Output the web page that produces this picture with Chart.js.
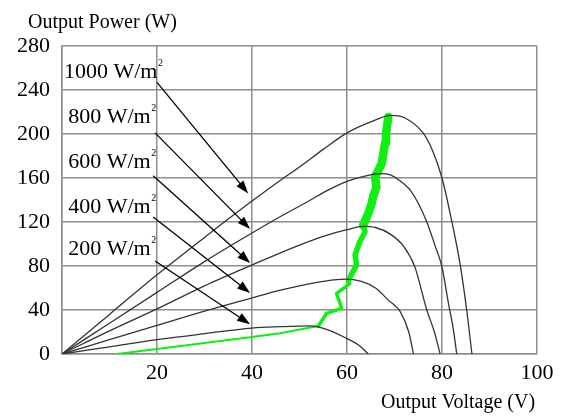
<!DOCTYPE html>
<html>
<head>
<meta charset="utf-8">
<script src="https://cdn.jsdelivr.net/npm/chart.js@4.4.1/dist/chart.umd.min.js"></script>
<style>
  html, body { margin: 0; padding: 0; background: #fff; }
  #wrap { width: 565px; height: 416px; }
</style>
</head>
<body>
<div id="wrap"><canvas id="chart" width="565" height="416"></canvas></div>
<script>
// P-V curves (volts, watts)
const irradiance = ["1000", "800", "600", "400", "200"];

const v1000 = [0, 10, 20, 30, 40, 46, 50, 55, 60, 65, 69.3, 72, 76, 78, 80, 82, 83.8, 85.2, 86.3];
const p1000 = [0, 36, 72, 106, 139, 158, 170, 186, 201, 211, 217, 215, 201, 185, 160, 122, 82, 40, 0];

const v800 = [0, 10, 20, 30, 40, 46, 51.5, 56, 60, 64, 67, 69, 71, 73.3, 75, 76.8, 78.5, 80, 81.4, 82.4, 83.1];
const p800 = [0, 28, 56, 84, 110, 125, 138, 149, 157, 162, 164, 163, 158, 149, 137, 120, 99, 79, 45, 22, 0];

const v600 = [0, 10, 20, 30, 40, 46, 50, 55, 60, 63.4, 66, 69.1, 71.9, 74.3, 76.8, 78.4, 79.6];
const p600 = [0, 21, 41, 62, 81, 92, 99, 107, 113, 116, 115, 109, 98, 79, 40, 20, 0];

const v400 = [0, 10, 20, 30, 40, 46, 50, 55, 59.6, 63, 66, 68.7, 71.2, 73, 74];
const p400 = [0, 13, 26, 39, 51, 58, 62, 66, 68, 66, 60, 49, 38.5, 20, 0];

const v200 = [0, 10, 20, 30, 40, 46, 52.2, 56, 60, 62.5, 64.5];
const p200 = [0, 6.5, 13, 18.5, 23.6, 24.8, 25.5, 22, 14, 8, 0];

// tracked maximum power point path (green)
const mpptV = [11.5, 20, 30, 40, 45.9, 54, 55.7, 58.9, 57.8, 60.6, 60.3, 62, 61.7, 62.7, 63.8, 63.4, 64.5, 65.2, 65.5, 66.2, 65.9, 67.3, 67.6, 68, 68.2, 68.7];
const mpptP = [0, 4.5, 10, 15.5, 18.8, 25.5, 37, 41.5, 55, 64, 67, 81, 90, 102, 111, 117, 128, 137, 143, 152, 161, 173, 181, 191.5, 200, 215.5];

// label / arrow anchors in data units
const labelV = [0.4, 1.3, 1.3, 1.3, 1.3];
const labelP = [251, 210, 169, 128, 90];
const arrowFromV = [20.0, 19.6, 19.2, 19.2, 19.6];
const arrowFromP = [247, 201, 162, 124.5, 84.5];
const arrowToV = [39.2, 39.6, 39.6, 39.6, 39.6];
const arrowToP = [146, 113.6, 82.7, 55.5, 27];

const SERIF = "'Liberation Serif', 'DejaVu Serif', serif";

function toPoints(xs, ys) {
    return xs.map((x, i) => ({ x: x, y: ys[i] }));
}

const curves = [[v1000, p1000], [v800, p800], [v600, p600], [v400, p400], [v200, p200]];

const datasets = curves.map((c, i) => ({
    label: irradiance[i] + " W/m2",
    data: toPoints(c[0], c[1]),
    borderColor: "#333",
    borderWidth: 1.3,
    pointRadius: 0,
    fill: false,
    cubicInterpolationMode: "monotone"
}));

datasets.push({
    label: "MPPT",
    data: toPoints(mpptV, mpptP),
    borderColor: "#11ee11",
    pointRadius: 0,
    fill: false,
    tension: 0,
    borderJoinStyle: "round",
    borderCapStyle: "round",
    segment: {
        borderWidth: ctx => {
            const p = ctx.p1.parsed.y;
            if (p <= 26) return 2;
            if (p <= 70) return 3.5;
            if (p <= 120) return 5.5;
            return 8.5;
        }
    }
});

const annotate = {
    id: "annotate",
    afterDraw(chart) {
        const ctx = chart.ctx;
        const xs = chart.scales.x, ys = chart.scales.y;
        ctx.save();
        ctx.fillStyle = "#000";
        ctx.strokeStyle = "#000";
        ctx.textBaseline = "alphabetic";
        ctx.textAlign = "left";

        irradiance.forEach((lab, i) => {
            const tx = xs.getPixelForValue(labelV[i]);
            const ty = ys.getPixelForValue(labelP[i]);
            ctx.font = "22px " + SERIF;
            const main = lab + " W/m";
            ctx.fillText(main, tx, ty);
            const w = ctx.measureText(main).width;
            ctx.font = "10px " + SERIF;
            ctx.fillText("2", tx + w + 0.5, ty - 12);

            const x1 = xs.getPixelForValue(arrowFromV[i]);
            const y1 = ys.getPixelForValue(arrowFromP[i]);
            const x2 = xs.getPixelForValue(arrowToV[i]);
            const y2 = ys.getPixelForValue(arrowToP[i]);
            const ang = Math.atan2(y2 - y1, x2 - x1);
            const hl = 13, hw = 4.5;
            ctx.lineWidth = 1.3;
            ctx.beginPath();
            ctx.moveTo(x1, y1);
            ctx.lineTo(x2 - Math.cos(ang) * hl * 0.8, y2 - Math.sin(ang) * hl * 0.8);
            ctx.stroke();
            ctx.beginPath();
            ctx.moveTo(x2, y2);
            ctx.lineTo(x2 - Math.cos(ang) * hl - Math.sin(ang) * hw, y2 - Math.sin(ang) * hl + Math.cos(ang) * hw);
            ctx.lineTo(x2 - Math.cos(ang) * hl + Math.sin(ang) * hw, y2 - Math.sin(ang) * hl - Math.cos(ang) * hw);
            ctx.closePath();
            ctx.fill();
        });

        // axis titles
        ctx.font = "20px " + SERIF;
        ctx.fillText("Output Power (W)", 28, 28);
        ctx.fillText("Output Voltage (V)", 381, 408);
        ctx.restore();
    }
};

new Chart(document.getElementById("chart").getContext("2d"), {
    type: "line",
    data: { datasets },
    plugins: [annotate],
    options: {
        responsive: false,
        animation: false,
        layout: { padding: { top: 46, right: 28, left: 0, bottom: 0 } },
        plugins: { legend: { display: false }, tooltip: { enabled: false } },
        scales: {
            x: {
                type: "linear",
                min: 0,
                max: 100,
                afterFit: s => { s.height = 62; },
                ticks: {
                    stepSize: 20,
                    color: "#000",
                    padding: 6,
                    maxRotation: 0,
                    font: { family: SERIF, size: 22 },
                    callback: v => (v === 0 ? "" : v)
                },
                grid: { color: "#8e8e8e", lineWidth: 1.5, drawTicks: false },
                border: { color: "#8e8e8e", width: 1.5 }
            },
            y: {
                min: 0,
                max: 280,
                afterFit: s => { s.width = 62; },
                ticks: {
                    stepSize: 40,
                    color: "#000",
                    padding: 12,
                    font: { family: SERIF, size: 22 }
                },
                grid: { color: "#8e8e8e", lineWidth: 1.5, drawTicks: false },
                border: { color: "#8e8e8e", width: 1.5 }
            }
        }
    }
});
</script>
</body>
</html>
